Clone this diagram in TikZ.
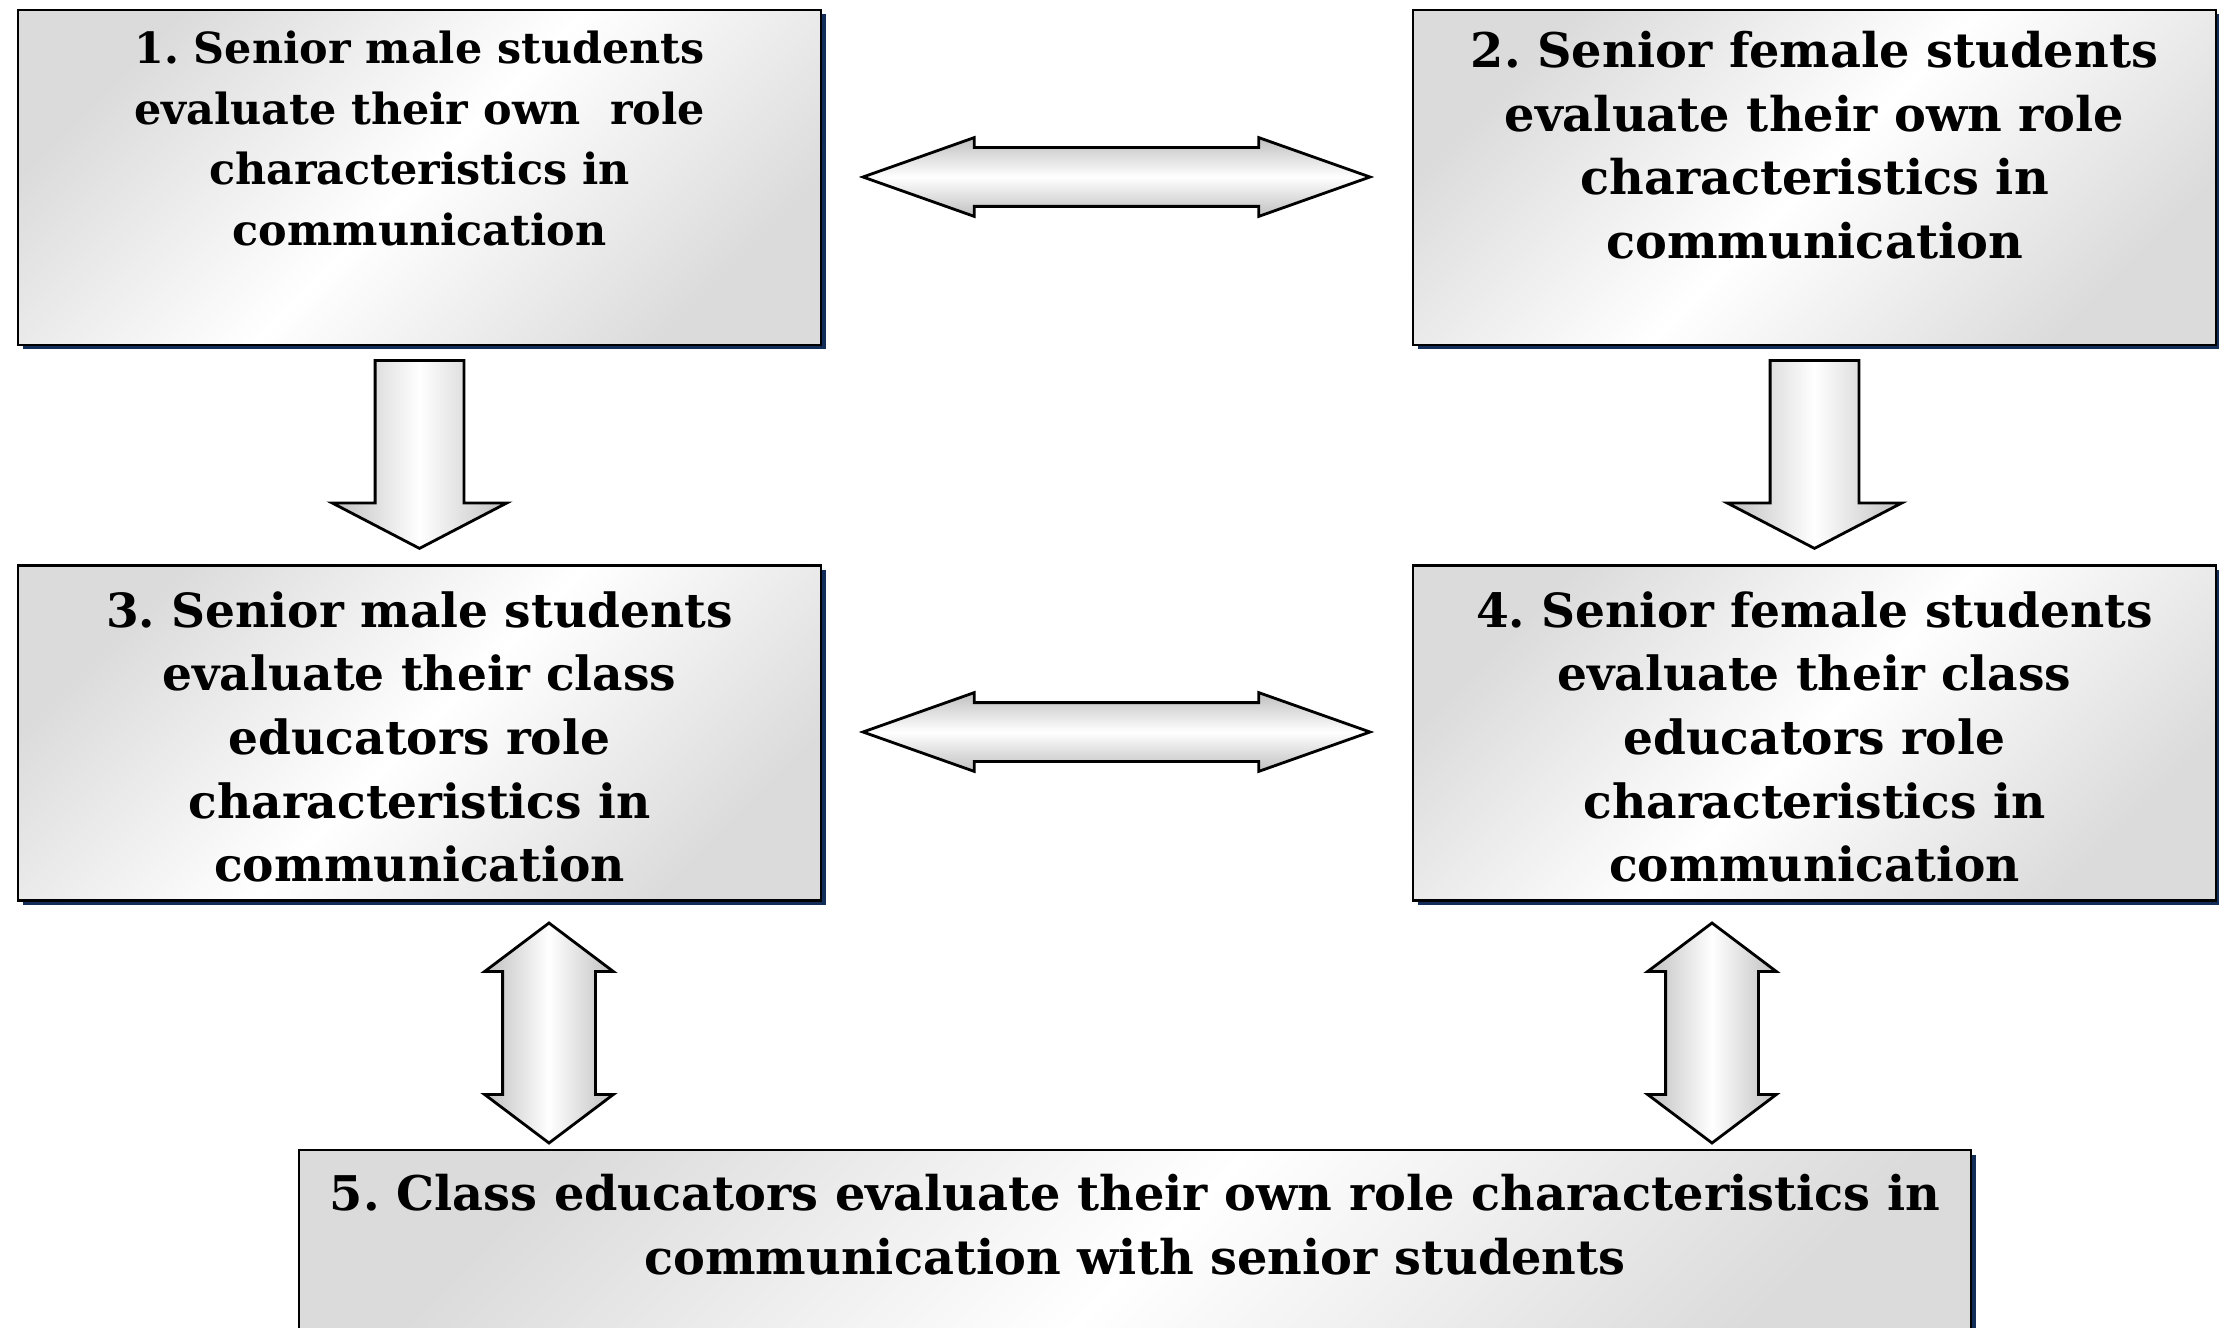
\documentclass[tikz,border=0pt]{standalone}
\usepackage{fontspec}
\setmainfont{DejaVu Serif}
\usepackage{tikz}
\usetikzlibrary{shapes.arrows,shadows,positioning,calc}
\definecolor{shadowblue}{RGB}{18,45,88}
\frenchspacing

\begin{document}
\begin{tikzpicture}[
  box/.style={draw, line width=0.8pt, minimum width=8.03cm, minimum height=3.35cm,
    top color=gray!28, bottom color=gray!28, middle color=white, shading angle=45,
    drop shadow={shadow xshift=0.045cm, shadow yshift=-0.045cm,
      fill=shadowblue, opacity=1}},
  boxtext/.style={align=center, inner sep=0pt},
  downarrow/.style={single arrow, draw, line width=0.8pt, shape border rotate=270,
    minimum height=1.88cm, inner sep=0.43cm, single arrow head extend=0.43cm,
    single arrow tip angle=125, left color=gray!50, right color=gray!50,
    middle color=white, anchor=tip},
  harrow/.style={double arrow, draw, line width=0.8pt, minimum height=5.07cm,
    inner sep=0.28cm, double arrow head extend=0.10cm, double arrow tip angle=39,
    top color=gray!50, bottom color=gray!50, middle color=white},
  varrow/.style={double arrow, draw, line width=0.8pt, shape border rotate=90,
    minimum height=2.20cm, inner sep=0.45cm, double arrow head extend=0.18cm,
    double arrow tip angle=106, left color=gray!50, right color=gray!50,
    middle color=white}
]
\path[use as bounding box, clip] (0,0) rectangle (22.19,-13.28);

% Boxes
\node[box] (b1) at (4.195,-1.775) {};
\node[box] (b2) at (18.145,-1.775) {};
\node[box] (b3) at (4.195,-7.33) {};
\node[box] (b4) at (18.145,-7.33) {};
\node[box, minimum width=16.72cm, minimum height=2.3cm] (b5) at (11.35,-12.65) {};

% Texts
\node[boxtext, anchor=north, font=\bfseries\fontsize{12.2}{17.2}\selectfont]
  (t1) at ([yshift=-0.22cm]b1.north)
  {1. Senior male students\\ evaluate their own\ \ role\\ characteristics in\\
   communication};
\node[boxtext, anchor=north, font=\bfseries\fontsize{13.6}{18.1}\selectfont]
  (t2) at ([yshift=-0.22cm]b2.north)
  {2. Senior female students\\ evaluate their own role\\ characteristics in\\
   communication};
\node[boxtext, font=\bfseries\fontsize{13.4}{18.1}\selectfont] (t3)
  at ([yshift=-0.04cm]b3)
  {3. Senior male students\\ evaluate their class\\ educators role\\
   characteristics in\\ communication};
\node[boxtext, font=\bfseries\fontsize{13.4}{18.1}\selectfont] (t4)
  at ([yshift=-0.04cm]b4)
  {4. Senior female students\\ evaluate their class\\ educators role\\
   characteristics in\\ communication};
\node[boxtext, anchor=north, font=\bfseries\fontsize{13.6}{18.1}\selectfont]
  (t5) at ([yshift=-0.25cm]b5.north)
  {5. Class educators evaluate their own role characteristics in\\
   communication with senior students};

% Arrows
\node[harrow] (a12) at (11.165,-1.77) {};
\node[harrow] (a34) at (11.165,-7.32) {};
\node[downarrow] (a13) at (4.195,-5.50) {};
\node[downarrow] (a24) at (18.145,-5.50) {};
\node[varrow] (a35) at (5.49,-10.33) {};
\node[varrow] (a45) at (17.12,-10.33) {};
\end{tikzpicture}
\end{document}
